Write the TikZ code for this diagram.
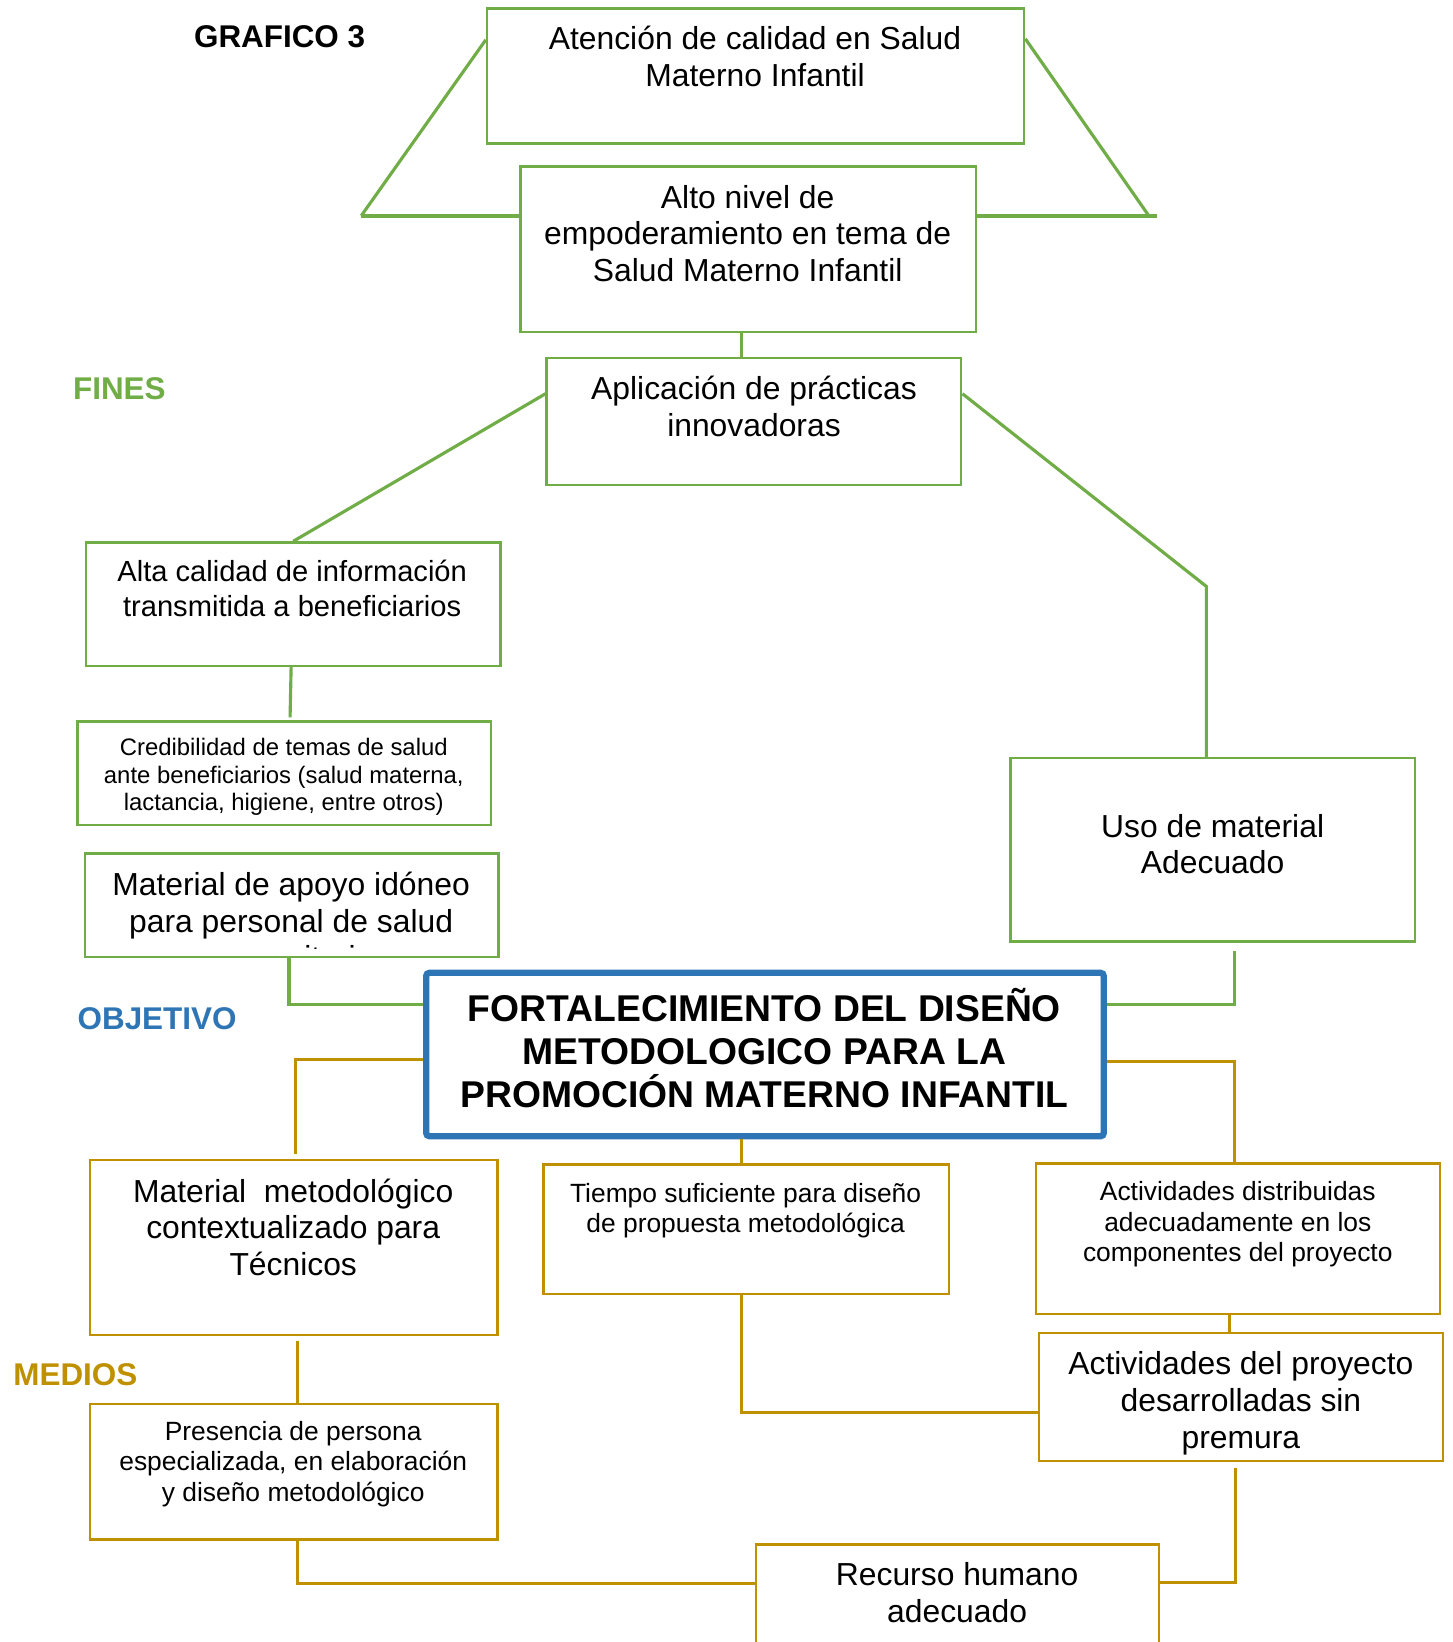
\documentclass[tikz,border=0pt]{standalone}
\usepackage{fontspec}
\setmainfont{Liberation Sans}
\usetikzlibrary{fit}
\definecolor{fgreen}{HTML}{70AD47}
\definecolor{fblue}{HTML}{2E75B6}
\definecolor{fgold}{HTML}{BF9000}

\begin{document}
\begin{tikzpicture}[x=0.5pt,y=-0.5pt,
  box/.style={draw=#1, line width=1.1pt, inner sep=0pt, rectangle},
  mainbox/.style={draw=fblue, line width=3pt, rounded corners=1.5pt, inner sep=0pt, rectangle},
  big/.style={align=center, inner sep=0pt, font=\fontsize{15.2}{17.5}\selectfont},
  med/.style={align=center, inner sep=0pt, font=\fontsize{13.9}{16.5}\selectfont},
  sm/.style={align=center, inner sep=0pt, font=\fontsize{12.6}{14.6}\selectfont},
  xs/.style={align=center, inner sep=0pt, font=\fontsize{11.4}{13.25}\selectfont},
  bold/.style={align=center, inner sep=0pt, font=\fontsize{17.8}{20.5}\selectfont\bfseries},
  head/.style={inner sep=0pt, font=\fontsize{15}{18}\selectfont\bfseries},
  gline/.style={draw=fgreen, line width=1.5pt},
  yline/.style={draw=fgold, line width=1.5pt}]

\fill[white] (0,0) rectangle (1387,1568);
\useasboundingbox (0,0) rectangle (1387,1568);

% section headings
\node[head, text=black] (hgraf) at (267,35) {GRAFICO 3};
\node[head, text=fgreen] (hfin) at (114,371) {FINES};
\node[head, text=fblue] (hobj) at (150,973) {OBJETIVO};
\node[head, text=fgold] (hmed) at (72,1313) {MEDIOS};

% ends (green boxes)
\node[box=fgreen, fit={(465,8) (978,137)}] (A) {};
\node[big] (tA) at (721,54) {Atención de calidad en Salud\\Materno Infantil};
\node[box=fgreen, fit={(497,159) (932,317)}] (B) {};
\node[big] (tB) at (714,223) {Alto nivel de\\empoderamiento en tema de\\Salud Materno Infantil};
\node[box=fgreen, fit={(522,342) (918,463)}] (C) {};
\node[big] (tC) at (720,388) {Aplicación de prácticas\\innovadoras};
\node[box=fgreen, fit={(82,518) (478,636)}] (D) {};
\node[med] (tD) at (279,562) {Alta calidad de información\\transmitida a beneficiarios};
\node[box=fgreen, fit={(74,689) (469,788)}] (E) {};
\node[xs] (tE) at (271,742) {Credibilidad de temas de salud\\ante beneficiarios (salud materna,\\lactancia, higiene, entre otros)};
\node[box=fgreen, fit={(81,815) (476,914)}] (F) {};
\begin{scope}
  \clip (81,815) rectangle (476,906);
  \node[big] (tF) at (278,879) {Material de apoyo idóneo\\para personal de salud\\comunitario};
\end{scope}
\node[box=fgreen, fit={(965,724) (1351,899)}] (G) {};
\node[big] (tG) at (1158,806) {Uso de material\\Adecuado};

% objective
\node[mainbox, fit={(407,929) (1054,1085)}] (O) {};
\node[bold] (tO) at (730,1001) {FORTALECIMIENTO DEL DISEÑO\\METODOLOGICO PARA LA\\PROMOCIÓN MATERNO INFANTIL};

% means (gold boxes)
\node[box=fgold, fit={(86,1108) (475,1275)}] (H) {};
\node[big] (tH) at (280,1172) {Material~~metodológico\\contextualizado para\\Técnicos};
\node[box=fgold, fit={(519,1112) (906,1236)}] (I) {};
\node[sm] (tI) at (712,1156) {Tiempo suficiente para diseño\\de propuesta metodológica};
\node[box=fgold, fit={(989,1111) (1375,1255)}] (J) {};
\node[sm] (tJ) at (1182,1169) {Actividades distribuidas\\adecuadamente en los\\componentes del proyecto};
\node[box=fgold, fit={(992,1273) (1378,1395)}] (K) {};
\node[big] (tK) at (1185,1340) {Actividades del proyecto\\desarrolladas sin\\premura};
\node[box=fgold, fit={(86,1341) (475,1470)}] (L) {};
\node[sm] (tL) at (280,1398) {Presencia de persona\\especializada, en elaboración\\y diseño metodológico};
\node[box=fgold, fit={(722,1475) (1107,1600)}] (M) {};
\node[big] (tM) at (914,1521) {Recurso humano\\adecuado};

% connectors among the ends
\coordinate (tl) at (345,206);
\coordinate (tr) at (1097,206);
\coordinate (tre) at (1105,206);
\coordinate (cr) at (1152,560);
\draw[gline] (A.west |- 0,38) -- (tl);
\draw[gline, line width=2pt] (tl) -- (B.west |- tl);
\draw[gline] (A.east |- 0,37) -- (tr);
\draw[gline, line width=2pt] (B.east |- tre) -- (tre);
\draw[gline] (B.south -| 708,0) -- (C.north -| 708,0);
\draw[gline] (C.west |- 0,376) -- (D.north);
\draw[gline] (C.east |- 0,376) -- (cr) -- (G.north -| cr);
\draw[gline] (D.south -| 278,0) -- (277,685);
\draw[gline] (F.south -| 276,0) |- (O.west |- 0,959);
\draw[gline] ([yshift=-4pt]G.south -| 1179,0) |- (O.east |- 0,959);

% connectors among the means
\draw[yline] (O.west |- 0,1012) -| ([yshift=2.5pt]H.north -| 282,0);
\draw[yline] (O.east |- 0,1014) -| (J.north -| 1179,0);
\draw[yline] (O.south -| 708,0) -- (I.north -| 708,0);
\draw[yline] (J.south -| 1174,0) -- (K.north -| 1174,0);
\draw[yline] ([yshift=-2pt]H.south -| 284,0) -- (L.north -| 284,0);
\draw[yline] (I.south -| 708,0) |- (K.west |- 0,1349);
\draw[yline] (L.south -| 284,0) |- (M.west |- 0,1512);
\draw[yline] ([yshift=-3pt]K.south -| 1180,0) |- (M.east |- 0,1511);
\end{tikzpicture}
\end{document}
